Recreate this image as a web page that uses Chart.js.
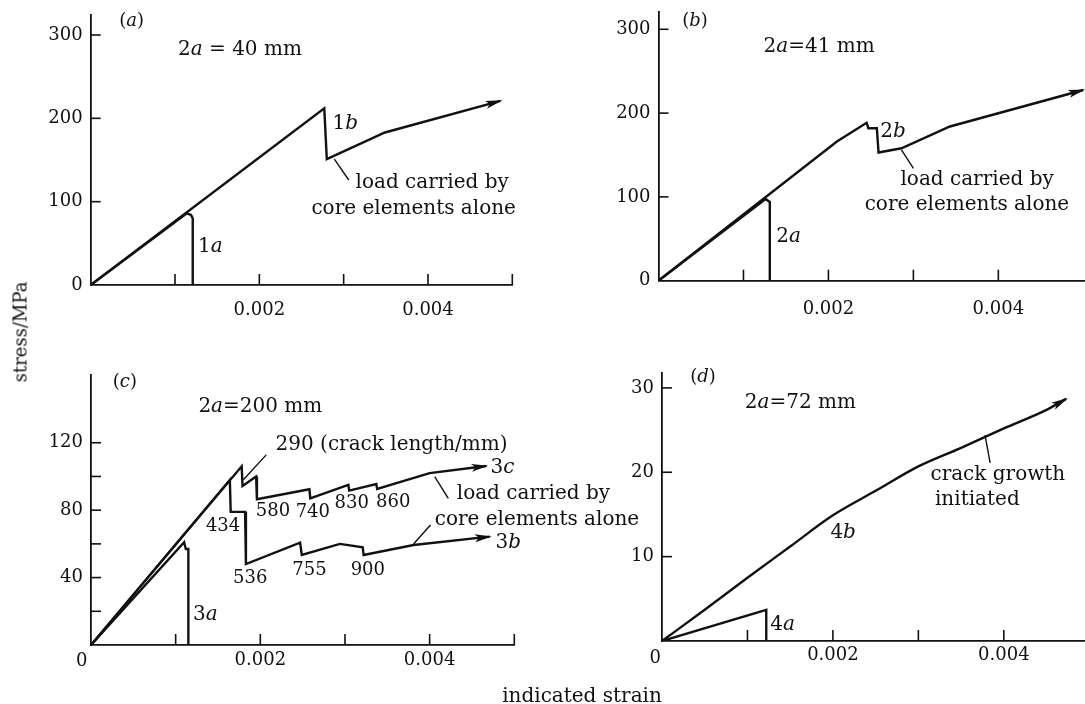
<!DOCTYPE html>
<html>
<head>
<meta charset="utf-8">
<script src="https://cdn.jsdelivr.net/npm/chart.js@4.4.1/dist/chart.umd.min.js"></script>
<style>
  html, body { margin: 0; padding: 0; background: #fff; }
  #page { position: relative; width: 1085px; height: 704px; overflow: hidden; background: #fff; }
  #page canvas { position: absolute; left: 0; top: 0; }
  .axis-title { position: absolute; font-family: "DejaVu Serif", serif; color: #111; white-space: nowrap; transform: translate(-50%, -50%); }
  #yTitle { left: 20px; top: 332px; font-size: 18px; transform: translate(-50%, -50%) rotate(-90deg); }
  #xTitle { left: 582px; top: 695px; font-size: 20px; }
</style>
</head>
<body>
<div id="page">
  <canvas id="chartA" width="1085" height="704"></canvas>
  <canvas id="chartB" width="1085" height="704"></canvas>
  <canvas id="chartC" width="1085" height="704"></canvas>
  <canvas id="chartD" width="1085" height="704"></canvas>
  <div class="axis-title" id="yTitle">stress/MPa</div>
  <div class="axis-title" id="xTitle">indicated strain</div>
</div>
<script>
// (a) 2a = 40 mm
const strainA1 = [0, 0.00114, 0.00119, 0.00121, 0.00121];
const stressA1 = [0, 86, 84, 80, 0];
const strainA2 = [0, 0.00277, 0.0028, 0.00349, 0.00486];
const stressA2 = [0, 212, 151, 183, 221];

// (b) 2a = 41 mm
const strainB1 = [0, 0.00126, 0.00131, 0.00131];
const stressB1 = [0, 97.5, 94, 0];
const strainB2 = [0, 0.0021, 0.00245, 0.00247, 0.00257, 0.00259, 0.00286, 0.00343, 0.005];
const stressB2 = [0, 166, 188.5, 182, 182, 153, 158, 184, 227.6];

// (c) 2a = 200 mm
const strainC1 = [0, 0.0011, 0.00112, 0.00115, 0.00115];
const stressC1 = [0, 61, 57, 57, 0];
const strainC2 = [0, 0.00164, 0.00165, 0.00182, 0.00183, 0.00247, 0.00249, 0.00294, 0.00321, 0.00322, 0.00381, 0.00471];
const stressC2 = [0, 98, 79, 79, 48, 60.7, 53.4, 60, 58, 53.4, 59.3, 64.3];
const strainC3 = [0, 0.00178, 0.00179, 0.00195, 0.00196, 0.00258, 0.00259, 0.00304, 0.00305, 0.00337, 0.00338, 0.004, 0.00467];
const stressC3 = [0, 106, 94.4, 100, 86.5, 92.4, 87, 95, 91.6, 95.5, 92.6, 102, 106.2];

// (d) 2a = 72 mm
const strainD1 = [0, 0.00122, 0.00122];
const stressD1 = [0, 3.7, 0];
const strainD2 = [0, 0.0005, 0.001, 0.0015, 0.002, 0.0025, 0.003, 0.0035, 0.004, 0.0045, 0.00473];
const stressD2 = [0, 3.7, 7.5, 11.2, 14.9, 17.8, 20.7, 22.9, 25.2, 27.4, 28.7];

// ticks
const strainTicks = [0.001, 0.002, 0.003, 0.004, 0.005];
const strainTicksShort = [0.001, 0.002, 0.003, 0.004];
const strainLabels = [0.002, 0.004];
const stressTicksAB = [0, 100, 200, 300];
const stressLabelsAB = [0, 100, 200, 300];
const stressTicksC = [20, 40, 60, 80, 100, 120];
const stressLabelsC = [40, 80, 120];
const stressTicksD = [10, 20, 30];
const stressLabelsD = [10, 20, 30];

const ink = "#111";
const serif = '"DejaVu Serif", serif';

Chart.defaults.font.family = serif;
Chart.defaults.color = ink;

const toPoints = (xs, ys) => xs.map((x, i) => ({ x, y: ys[i] }));

// text with _italic_ parts
const drawRich = (ctx, x, y, text, align, size) => {
  const parts = text.split("_").map((t, i) => ({ t, italic: i % 2 === 1 }));
  const fontOf = (p) => `${p.italic ? "italic " : ""}${size}px ${serif}`;
  let total = 0;
  parts.forEach((p) => {
    ctx.font = fontOf(p);
    p.w = ctx.measureText(p.t).width;
    total += p.w;
  });
  let cx = align === "left" ? x : x - total / 2;
  ctx.textBaseline = "middle";
  ctx.textAlign = "left";
  parts.forEach((p) => {
    ctx.font = fontOf(p);
    ctx.fillText(p.t, cx, y);
    cx += p.w;
  });
};

const arrowHead = (ctx, x0, y0, x1, y1) => {
  const ang = Math.atan2(y1 - y0, x1 - x0);
  ctx.save();
  ctx.translate(x1, y1);
  ctx.rotate(ang);
  ctx.beginPath();
  ctx.moveTo(2, 0);
  ctx.lineTo(-15, -4);
  ctx.lineTo(-11, 0);
  ctx.lineTo(-15, 4);
  ctx.closePath();
  ctx.fill();
  ctx.restore();
};

const paperMarks = {
  id: "paperMarks",
  afterDraw(chart, args, opts) {
    const { ctx } = chart;
    const { x, y } = chart.scales;
    const line = (x1, y1, x2, y2) => {
      ctx.beginPath();
      ctx.moveTo(x1, y1);
      ctx.lineTo(x2, y2);
      ctx.stroke();
    };
    ctx.save();
    ctx.strokeStyle = ink;
    ctx.fillStyle = ink;
    ctx.lineWidth = 1.6;

    // inward tick marks
    x.ticks.forEach((t) => {
      if (t.value === 0) return;
      const px = x.getPixelForValue(t.value);
      line(px, y.bottom, px, y.bottom - 11);
    });
    y.ticks.forEach((t) => {
      if (t.value === 0) return;
      const py = y.getPixelForValue(t.value);
      line(x.left, py, x.left + 10, py);
    });

    // arrow heads on series ends
    chart.data.datasets.forEach((ds, i) => {
      if (!ds.arrow) return;
      const pts = chart.getDatasetMeta(i).data;
      const a = pts[pts.length - 2];
      const b = pts[pts.length - 1];
      arrowHead(ctx, a.x, a.y, b.x, b.y);
    });

    // leader lines
    ctx.lineWidth = 1.4;
    (opts.leaders || []).forEach((l) => {
      line(x.getPixelForValue(l[0]), y.getPixelForValue(l[1]), x.getPixelForValue(l[2]), y.getPixelForValue(l[3]));
    });

    // notes
    (opts.notes || []).forEach((n) => {
      drawRich(ctx, x.getPixelForValue(n.x), y.getPixelForValue(n.y), n.text, n.align || "center", n.size || 20);
    });
    ctx.restore();
  },
};

const makePanel = (id, p) => {
  const yW = 60;
  const xH = 40;
  const squash = (s) => {
    s.paddingLeft = 0;
    s.paddingRight = 0;
    s.paddingTop = 0;
    s.paddingBottom = 0;
  };
  new Chart(document.getElementById(id), {
    type: "scatter",
    data: {
      datasets: p.series.map((s) => ({
        data: toPoints(s.x, s.y),
        showLine: true,
        borderColor: ink,
        borderWidth: 2.4,
        pointRadius: 0,
        cubicInterpolationMode: s.smooth ? "monotone" : "default",
        tension: 0,
        arrow: !!s.arrow,
      })),
    },
    options: {
      responsive: false,
      animation: false,
      events: [],
      layout: {
        padding: {
          left: p.box.left - yW,
          top: p.box.top,
          right: 1085 - p.box.right,
          bottom: 704 - p.box.bottom - xH,
        },
      },
      plugins: {
        legend: { display: false },
        tooltip: { enabled: false },
        paperMarks: { notes: p.notes, leaders: p.leaders },
      },
      scales: {
        x: {
          type: "linear",
          min: 0,
          max: p.xMax,
          afterBuildTicks: (s) => {
            s.ticks = p.xTicks.map((v) => ({ value: v }));
          },
          afterFit: (s) => {
            s.height = xH;
            squash(s);
          },
          ticks: {
            autoSkip: false,
            maxRotation: 0,
            padding: p.xPad,
            font: { size: 18 },
            color: ink,
            callback: (v) => (strainLabels.includes(v) ? v.toFixed(3) : ""),
          },
          grid: { display: false, drawTicks: false },
          border: { color: ink, width: 1.8 },
        },
        y: {
          type: "linear",
          min: 0,
          max: p.yMax,
          afterBuildTicks: (s) => {
            s.ticks = p.yTicks.map((v) => ({ value: v }));
          },
          afterFit: (s) => {
            s.width = yW;
            squash(s);
          },
          ticks: {
            autoSkip: false,
            padding: 8,
            font: { size: 18 },
            color: ink,
            callback: (v) => (p.yLabels.includes(v) ? String(v) : ""),
          },
          grid: { display: false, drawTicks: false },
          border: { color: ink, width: 1.8 },
        },
      },
    },
    plugins: [paperMarks],
  });
};

document.addEventListener("DOMContentLoaded", () => {
  makePanel("chartA", {
    box: { left: 90.7, top: 15, right: 512.3, bottom: 285 },
    xMax: 0.005,
    yMax: 324,
    xTicks: strainTicks,
    yTicks: stressTicksAB,
    yLabels: stressLabelsAB,
    xPad: 15,
    series: [
      { x: strainA1, y: stressA1 },
      { x: strainA2, y: stressA2, arrow: true },
    ],
    notes: [
      { text: "(_a_)", x: 0.000486, y: 316, size: 18 },
      { text: "2_a_ = 40 mm", x: 0.00177, y: 282 },
      { text: "1_b_", x: 0.00302, y: 194 },
      { text: "1_a_", x: 0.00142, y: 46 },
      { text: "load carried by", x: 0.00405, y: 123 },
      { text: "core elements alone", x: 0.00383, y: 91 },
    ],
    leaders: [[0.00289, 151, 0.00306, 126]],
  });

  makePanel("chartB", {
    box: { left: 658.5, top: 11.7, right: 1085, bottom: 280.7 },
    xMax: 0.00502,
    yMax: 321,
    xTicks: strainTicksShort,
    yTicks: stressTicksAB,
    yLabels: stressLabelsAB,
    xPad: 18,
    series: [
      { x: strainB1, y: stressB1 },
      { x: strainB2, y: stressB2, arrow: true },
    ],
    notes: [
      { text: "(_b_)", x: 0.00043, y: 309, size: 18 },
      { text: "2_a_=41 mm", x: 0.00189, y: 279 },
      { text: "2_b_", x: 0.00276, y: 178 },
      { text: "2_a_", x: 0.00153, y: 52.5 },
      { text: "load carried by", x: 0.00375, y: 120 },
      { text: "core elements alone", x: 0.00363, y: 90 },
    ],
    leaders: [[0.00286, 156, 0.003, 134]],
  });

  makePanel("chartC", {
    box: { left: 91, top: 375, right: 514.3, bottom: 645 },
    xMax: 0.005,
    yMax: 160.2,
    xTicks: strainTicks,
    yTicks: stressTicksC,
    yLabels: stressLabelsC,
    xPad: 5,
    series: [
      { x: strainC1, y: stressC1 },
      { x: strainC2, y: stressC2, arrow: true },
      { x: strainC3, y: stressC3, arrow: true },
    ],
    notes: [
      { text: "(_c_)", x: 0.0004, y: 156, size: 18 },
      { text: "2_a_=200 mm", x: 0.002, y: 141.4 },
      { text: "290 (crack length/mm)", x: 0.00355, y: 118.7 },
      { text: "3_c_", x: 0.00486, y: 104.9 },
      { text: "3_b_", x: 0.00493, y: 60.7 },
      { text: "3_a_", x: 0.00135, y: 17.8 },
      { text: "434", x: 0.00156, y: 70.2, size: 18 },
      { text: "536", x: 0.00188, y: 39.6, size: 18 },
      { text: "755", x: 0.00258, y: 44.1, size: 18 },
      { text: "900", x: 0.00327, y: 44.5, size: 18 },
      { text: "580", x: 0.00215, y: 79.1, size: 18 },
      { text: "740", x: 0.00262, y: 78.5, size: 18 },
      { text: "830", x: 0.00308, y: 84.1, size: 18 },
      { text: "860", x: 0.00357, y: 84.5, size: 18 },
      { text: "load carried by", x: 0.00432, y: 90, align: "left" },
      { text: "core elements alone", x: 0.00406, y: 74.2, align: "left" },
      { text: "0", x: -0.00011, y: -9.9, size: 18 },
    ],
    leaders: [
      [0.00207, 112.8, 0.0018, 98],
      [0.00406, 99.9, 0.00422, 87],
      [0.00381, 59.9, 0.00401, 71.2],
    ],
  });

  makePanel("chartD", {
    box: { left: 662, top: 372.7, right: 1085, bottom: 641 },
    xMax: 0.00495,
    yMax: 31.8,
    xTicks: strainTicksShort,
    yTicks: stressTicksD,
    yLabels: stressLabelsD,
    xPad: 4,
    series: [
      { x: strainD1, y: stressD1 },
      { x: strainD2, y: stressD2, arrow: true, smooth: true },
    ],
    notes: [
      { text: "(_d_)", x: 0.00048, y: 31.3, size: 18 },
      { text: "2_a_=72 mm", x: 0.00162, y: 28.2 },
      { text: "crack growth", x: 0.00393, y: 19.7 },
      { text: "initiated", x: 0.00369, y: 16.7 },
      { text: "4_b_", x: 0.00212, y: 12.8 },
      { text: "4_a_", x: 0.00141, y: 1.9 },
      { text: "0", x: -0.00008, y: -2.05, size: 18 },
    ],
    leaders: [[0.00378, 24.4, 0.00384, 21.1]],
  });
});
</script>
</body>
</html>
